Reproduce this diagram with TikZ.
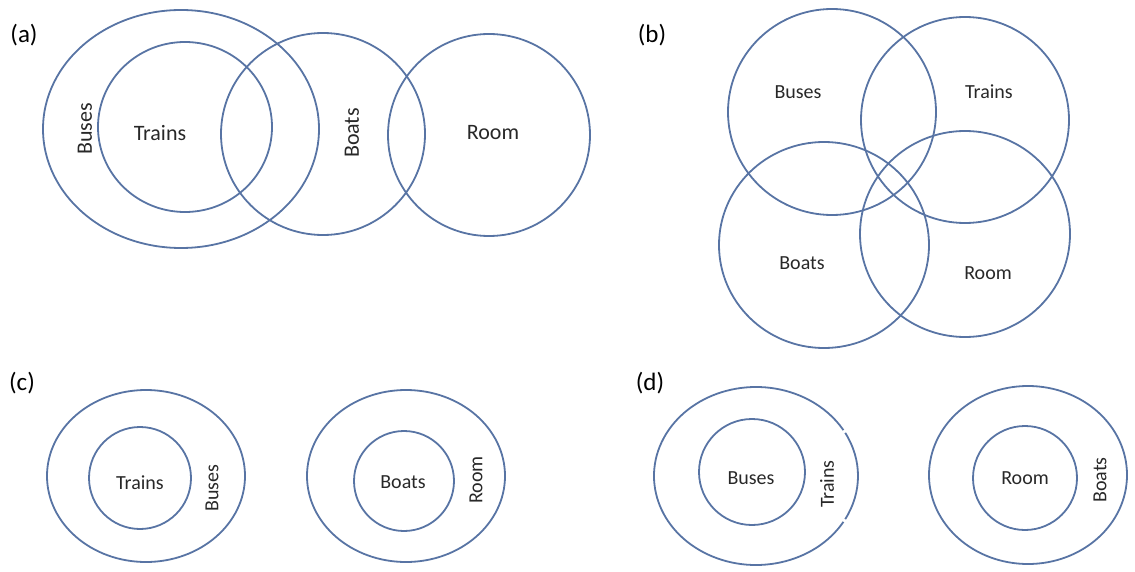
\documentclass[tikz,border=0pt]{standalone}
\usepackage{fontspec}
\setmainfont{Carlito}
\begin{document}
\begin{tikzpicture}[x=1pt,y=-1pt,
  ring/.style={draw=setblue,line width=1.8pt},
  lbl/.style={text=labelgray,inner sep=0pt,font=\fontsize{20}{22}\selectfont},
  biglbl/.style={text=labelgray,inner sep=0pt,font=\fontsize{22}{24}\selectfont},
  tag/.style={text=black,inner sep=0pt,font=\fontsize{25}{28}\selectfont}]
\definecolor{setblue}{RGB}{88,116,164}
\definecolor{labelgray}{RGB}{40,40,40}
\useasboundingbox (0,0) rectangle (1135,572);

% ---------- (a) ----------
\node[tag] (ta) at (24,35) {(a)};
\coordinate (aBus) at (181,129);
\coordinate (aTra) at (185,127);
\coordinate (aBoa) at (323,134);
\coordinate (aRoo) at (489,135);
\draw[ring] (aBus) ellipse [x radius=138, y radius=119];
\draw[ring] (aTra) ellipse [x radius=87, y radius=85];
\draw[ring] (aBoa) ellipse [x radius=102, y radius=101];
\draw[ring] (aRoo) ellipse [x radius=101, y radius=101];
\node[biglbl,rotate=90] (laBus) at (85,129) {Buses};
\node[biglbl] (laTra) at (160,133) {Trains};
\node[biglbl,rotate=90] (laBoa) at (352,133) {Boats};
\node[biglbl] (laRoo) at (493,133) {Room};

% ---------- (b) ----------
\node[tag] (tb) at (652,35) {(b)};
\coordinate (bBus) at (832,112);
\coordinate (bTra) at (965,120);
\coordinate (bBoa) at (824,245);
\coordinate (bRoo) at (965,234);
\draw[ring] (bBus) ellipse [x radius=104, y radius=103];
\draw[ring] (bTra) ellipse [x radius=104, y radius=103];
\draw[ring] (bBoa) ellipse [x radius=105, y radius=103];
\draw[ring] (bRoo) ellipse [x radius=105, y radius=103];
\node[lbl] (lbBus) at (798,92) {Buses};
\node[lbl] (lbTra) at (989,92) {Trains};
\node[lbl] (lbBoa) at (802,263) {Boats};
\node[lbl] (lbRoo) at (988,273) {Room};

% ---------- (c) ----------
\node[tag] (tc) at (22,383) {(c)};
\coordinate (cOut1) at (146,476);
\coordinate (cIn1) at (140,478);
\coordinate (cOut2) at (406,476);
\coordinate (cIn2) at (404,481);
\draw[ring] (cOut1) ellipse [x radius=99, y radius=86];
\draw[ring] (cIn1) ellipse [x radius=51, y radius=51];
\draw[ring] (cOut2) ellipse [x radius=99, y radius=86];
\draw[ring] (cIn2) ellipse [x radius=50, y radius=50];
\node[lbl] (lcTra) at (140,483) {Trains};
\node[lbl,rotate=90] (lcBus) at (212,488) {Buses};
\node[lbl] (lcBoa) at (403,482) {Boats};
\node[lbl,rotate=90] (lcRoo) at (476,480) {Room};

% ---------- (d) ----------
\node[tag] (td) at (650,383) {(d)};
\coordinate (dOut1) at (756,476);
\coordinate (dIn1) at (752,472);
\coordinate (dOut2) at (1028,475);
\coordinate (dIn2) at (1025,478);
% outer ring of the left pair has two small breaks on its right side
\draw[ring] (dOut1) ++(31:102 and 89) arc [start angle=31, end angle=329, x radius=102, y radius=89];
\draw[ring] (dOut1) ++(-29:102 and 89) arc [start angle=-29, end angle=29, x radius=102, y radius=89];
\draw[ring] (dIn1) ellipse [x radius=53, y radius=53];
\draw[ring] (dOut2) ellipse [x radius=99, y radius=89];
\draw[ring] (dIn2) ellipse [x radius=52, y radius=52];
\node[lbl] (ldBus) at (751,478) {Buses};
\node[lbl,rotate=90] (ldTra) at (827,484) {Trains};
\node[lbl] (ldRoo) at (1025,478) {Room};
\node[lbl,rotate=90] (ldBoa) at (1100,480) {Boats};
\end{tikzpicture}
\end{document}
